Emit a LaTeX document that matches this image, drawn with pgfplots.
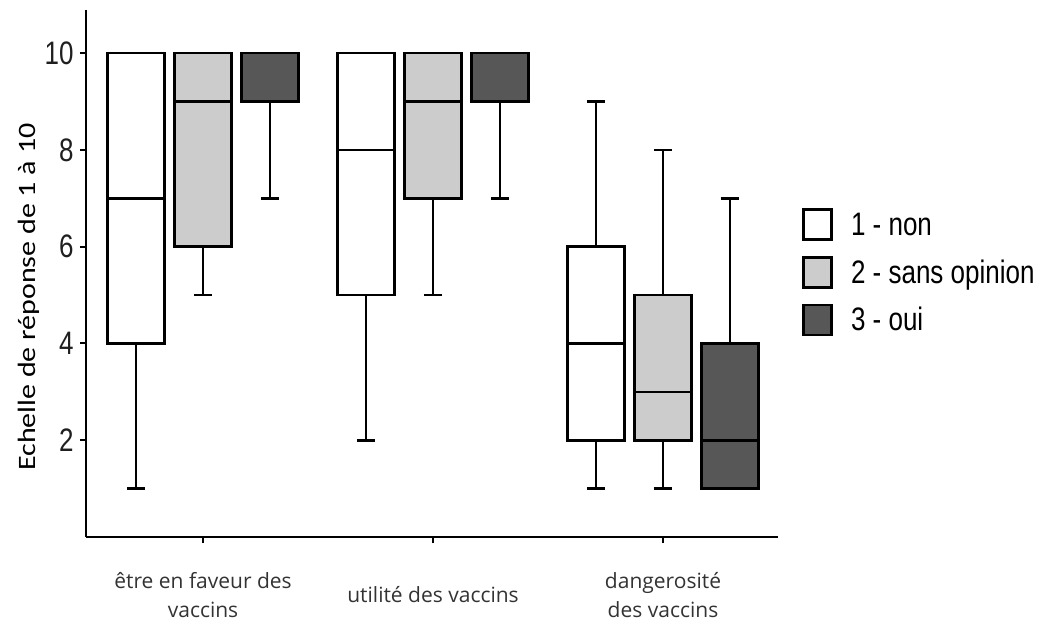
\documentclass[border=0pt]{standalone}
\usepackage{fontspec}
\usepackage{pgfplots}
\pgfplotsset{compat=1.18}
\usepgfplotslibrary{statistics}
\setmainfont{Liberation Sans}
\newfontfamily\calibri{Carlito}
\newfontfamily\segoe{Open Sans}
\definecolor{lgray}{HTML}{CCCCCC}
\definecolor{dgray}{HTML}{575757}
\definecolor{labgray}{HTML}{333333}
\begin{document}
\begin{tikzpicture}
\path[use as bounding box] (0,0) rectangle (1041pt,629pt);
\begin{axis}[
  at={(86pt,92pt)}, anchor=south west,
  scale only axis, width=692pt, height=527pt,
  xmin=0.491, xmax=3.5, ymin=0, ymax=10.89,
  axis lines*=left,
  axis line style={line width=2.6pt, black},
  xtick={1,2,3}, ytick={2,4,6,8,10},
  xticklabels={{être en faveur des\\vaccins},{utilité des vaccins},{dangerosité\\des vaccins}},
  tick align=outside, major tick length=6pt,
  tick style={line width=2pt, black},
  /pgf/number format/assume math mode=true,
  yticklabel={\scalebox{1}[1.25]{\pgfmathprintnumber{\tick}}},
  yticklabel style={font=\fontsize{26}{30}\selectfont, text=black!88, xshift=-3pt},
  xticklabel style={font=\segoe\fontsize{21}{29}\selectfont, text=labgray, align=center, anchor=center, yshift=-52pt},
  ylabel={\scalebox{1.2}[1]{\calibri Echelle de réponse de 1 à 10}},
  every axis y label/.style={at={(axis description cs:-0.0823,0.455)}, rotate=90, anchor=center, font=\fontsize{25}{30}\selectfont},
  boxplot/draw direction=y,
  legend style={draw=none, fill=none, at={(1.035,0.624)}, anchor=north west, font=\fontsize{26}{30}\selectfont, row sep=15pt, inner sep=0pt, cells={anchor=west}, /tikz/every even column/.style={column sep=0pt}},
  legend image code/.code={\draw[#1, line width=2.6pt] (0pt,-15pt) rectangle (28pt,15pt);},
]
\addlegendimage{draw=black, fill=white}
\addlegendentry{\hspace{16pt}\scalebox{1}[1.25]{1 - non}}
\addlegendimage{draw=black, fill=lgray}
\addlegendentry{\hspace{16pt}\scalebox{1}[1.25]{2 - sans opinion}}
\addlegendimage{draw=black, fill=dgray}
\addlegendentry{\hspace{16pt}\scalebox{1}[1.25]{3 - oui}}

% group 1
\addplot[draw=black, fill=white, line width=2.6pt, forget plot, boxplot prepared={draw position=0.709, lower whisker=1, lower quartile=4, median=7, upper quartile=10, upper whisker=10, box extend=0.248, whisker extend=0.08}] coordinates {};
\addplot[draw=black, fill=lgray, line width=2.6pt, forget plot, boxplot prepared={draw position=1, lower whisker=5, lower quartile=6, median=9, upper quartile=10, upper whisker=10, box extend=0.248, whisker extend=0.08}] coordinates {};
\addplot[draw=black, fill=dgray, line width=2.6pt, forget plot, boxplot prepared={draw position=1.291, lower whisker=7, lower quartile=9, median=9, upper quartile=10, upper whisker=10, box extend=0.248, whisker extend=0.08}] coordinates {};
% group 2
\addplot[draw=black, fill=white, line width=2.6pt, forget plot, boxplot prepared={draw position=1.709, lower whisker=2, lower quartile=5, median=8, upper quartile=10, upper whisker=10, box extend=0.248, whisker extend=0.08}] coordinates {};
\addplot[draw=black, fill=lgray, line width=2.6pt, forget plot, boxplot prepared={draw position=2, lower whisker=5, lower quartile=7, median=9, upper quartile=10, upper whisker=10, box extend=0.248, whisker extend=0.08}] coordinates {};
\addplot[draw=black, fill=dgray, line width=2.6pt, forget plot, boxplot prepared={draw position=2.291, lower whisker=7, lower quartile=9, median=9, upper quartile=10, upper whisker=10, box extend=0.248, whisker extend=0.08}] coordinates {};
% group 3
\addplot[draw=black, fill=white, line width=2.6pt, forget plot, boxplot prepared={draw position=2.709, lower whisker=1, lower quartile=2, median=4, upper quartile=6, upper whisker=9, box extend=0.248, whisker extend=0.08}] coordinates {};
\addplot[draw=black, fill=lgray, line width=2.6pt, forget plot, boxplot prepared={draw position=3, lower whisker=1, lower quartile=2, median=3, upper quartile=5, upper whisker=8, box extend=0.248, whisker extend=0.08}] coordinates {};
\addplot[draw=black, fill=dgray, line width=2.6pt, forget plot, boxplot prepared={draw position=3.291, lower whisker=1, lower quartile=1, median=2, upper quartile=4, upper whisker=7, box extend=0.248, whisker extend=0.08}] coordinates {};
\end{axis}
\end{tikzpicture}
\end{document}
